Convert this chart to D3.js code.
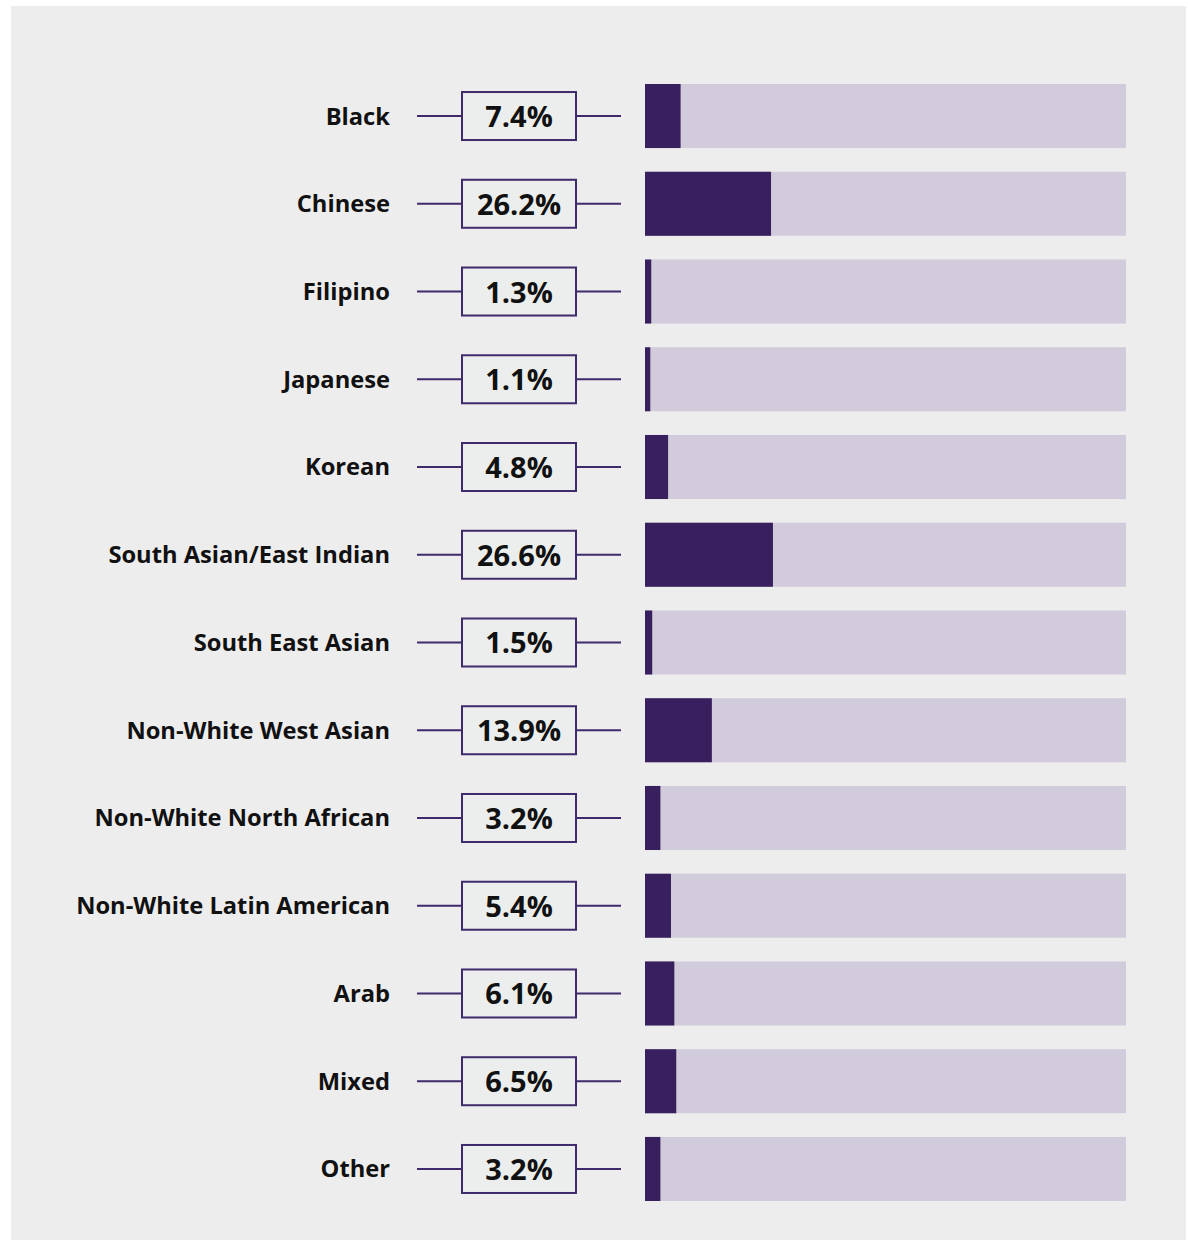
<!DOCTYPE html>
<html>
<head>
<meta charset="utf-8">
<script src="https://cdn.jsdelivr.net/npm/d3@7"></script>
<style>
  body { margin: 0; background: #fff; }
  svg { display: block; }
</style>
</head>
<body>
<svg id="chart" width="1188" height="1241"></svg>
<script>
const categories = [
  "Black", "Chinese", "Filipino", "Japanese", "Korean", "South Asian/East Indian",
  "South East Asian", "Non-White West Asian", "Non-White North African",
  "Non-White Latin American", "Arab", "Mixed", "Other"
];
const values = [7.4, 26.2, 1.3, 1.1, 4.8, 26.6, 1.5, 13.9, 3.2, 5.4, 6.1, 6.5, 3.2];

const svg = d3.select("#chart");

// panel background
svg.append("rect")
  .attr("x", 11)
  .attr("y", 6)
  .attr("width", 1175)
  .attr("height", 1234)
  .attr("fill", "#ededed");

// Scales
const xScale = d3.scaleLinear()
  .domain([0, 100])
  .range([645, 1126]);

const yScale = d3.scaleBand()
  .domain(categories)
  .range([84, 1201])
  .paddingInner(0.27)
  .paddingOuter(0);

const data = categories.map((c, i) => ({ cat: c, val: values[i] }));

const rows = svg.selectAll(".row")
  .data(data)
  .enter()
  .append("g")
  .attr("class", "row")
  .attr("transform", d => `translate(0, ${yScale(d.cat)})`);

const bw = yScale.bandwidth();
const mid = bw / 2;

// track
rows.append("rect")
  .attr("x", xScale(0))
  .attr("y", 0)
  .attr("width", xScale(100) - xScale(0))
  .attr("height", bw)
  .attr("fill", "#d2cbdb");

// value bar
rows.append("rect")
  .attr("x", xScale(0))
  .attr("y", 0)
  .attr("width", d => xScale(d.val) - xScale(0))
  .attr("height", bw)
  .attr("fill", "#381f5d");

// connector lines
rows.append("line")
  .attr("x1", 417).attr("x2", 462)
  .attr("y1", mid).attr("y2", mid)
  .attr("stroke", "#3f2a6b")
  .attr("stroke-width", 2);

rows.append("line")
  .attr("x1", 576).attr("x2", 621)
  .attr("y1", mid).attr("y2", mid)
  .attr("stroke", "#3f2a6b")
  .attr("stroke-width", 2);

// value box
rows.append("rect")
  .attr("x", 462)
  .attr("y", mid - 24)
  .attr("width", 114)
  .attr("height", 48)
  .attr("fill", "#eceeed")
  .attr("stroke", "#3f2a6b")
  .attr("stroke-width", 2);

rows.append("text")
  .attr("x", 519)
  .attr("y", mid + 11)
  .attr("text-anchor", "middle")
  .style("font-family", "'Open Sans', sans-serif")
  .style("font-weight", 700)
  .style("font-size", "29px")
  .attr("fill", "#111")
  .text(d => d.val.toFixed(1) + "%");

// category labels
rows.append("text")
  .attr("x", 390)
  .attr("y", mid + 8.5)
  .attr("text-anchor", "end")
  .style("font-family", "'Open Sans', sans-serif")
  .style("font-weight", 700)
  .style("font-size", "23.7px")
  .attr("fill", "#111")
  .text(d => d.cat);
</script>
</body>
</html>
